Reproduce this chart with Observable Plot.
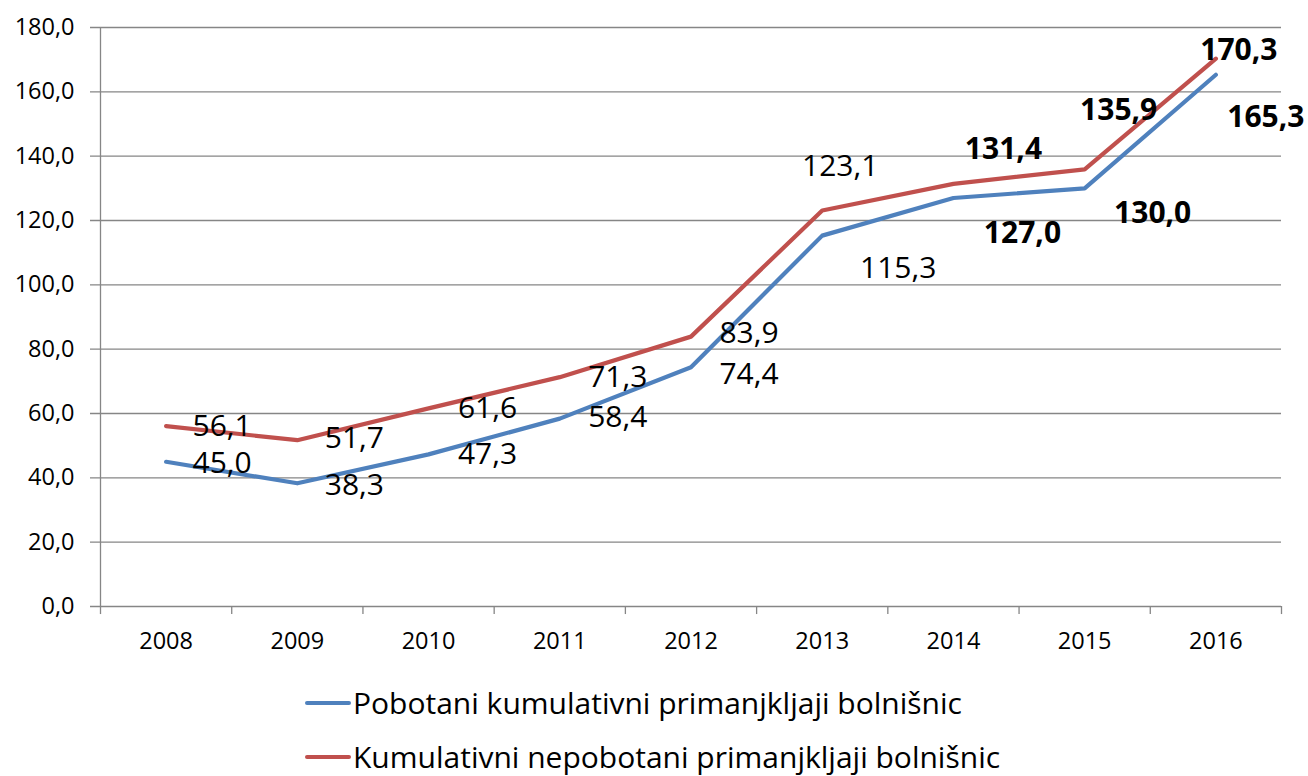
<!DOCTYPE html>
<html>
<head>
<meta charset="utf-8">
<script src="https://cdn.jsdelivr.net/npm/d3@7"></script>
<script src="https://cdn.jsdelivr.net/npm/@observablehq/plot@0.6"></script>
<style>
  html, body { margin: 0; padding: 0; background: #fff; }
  body { width: 1308px; height: 776px; position: relative; overflow: hidden; font-family: "Open Sans", sans-serif; }
  #chart { position: absolute; left: 0; top: 0; }
  .legend { position: absolute; left: 305px; display: flex; align-items: center; font-size: 30px; color: #000; white-space: nowrap; line-height: 38px; }
  .legend .swatch { width: 46px; height: 4px; margin-right: 2px; border-radius: 2px; }
</style>
</head>
<body>
<div id="chart"></div>
<div class="legend" id="leg1" style="top:684px"></div>
<div class="legend" id="leg2" style="top:738px"></div>
<script>
const years = [2008, 2009, 2010, 2011, 2012, 2013, 2014, 2015, 2016];
const seriesNames = ["Pobotani kumulativni primanjkljaji bolnišnic", "Kumulativni nepobotani primanjkljaji bolnišnic"];
const blueValues = [45.0, 38.3, 47.3, 58.4, 74.4, 115.3, 127.0, 130.0, 165.3];
const redValues = [56.1, 51.7, 61.6, 71.3, 83.9, 123.1, 131.4, 135.9, 170.3];
const yTicks = [0, 20, 40, 60, 80, 100, 120, 140, 160, 180];

// label placement (pixel offsets) and emphasis
const blueDx = [56, 57, 59, 58, 58, 76, 69, 68, 50];
const blueDy = [2, 2, 0, -1, 7, 33, 35, 25, 43];
const redDx = [56, 57, 59, 58, 58, 18, 50, 34, 23];
const redDy = [0, -2, 0, 0, -3, -44, -34, -59, -8];
const boldLabel = [false, false, false, false, false, false, true, true, true];

const colors = ["#4F81BD", "#C0504D"];
const fmt = v => v.toFixed(1).replace(".", ",");

const rows = [];
years.forEach((yr, i) => {
  rows.push({year: yr, value: blueValues[i], series: seriesNames[0], dx: blueDx[i], dy: blueDy[i], bold: boldLabel[i]});
});
years.forEach((yr, i) => {
  rows.push({year: yr, value: redValues[i], series: seriesNames[1], dx: redDx[i], dy: redDy[i], bold: boldLabel[i]});
});
const boundaries = years.map(y => y - 0.5).concat([years[years.length - 1] + 0.5]);

const textMarks = rows.map(r => Plot.text([r], {
  x: "year", y: "value", text: d => fmt(d.value),
  dx: r.dx, dy: r.dy, fontSize: 30, fontWeight: r.bold ? 700 : 400, fill: "#000"
}));

const chart = Plot.plot({
  width: 1308,
  height: 670,
  marginLeft: 100,
  marginRight: 27,
  marginTop: 27,
  marginBottom: 64,
  style: {fontFamily: "Open Sans, sans-serif", background: "#fff", overflow: "visible"},
  x: {domain: [years[0] - 0.5, years[years.length - 1] + 0.5], ticks: years, tickFormat: d => String(d), tickSize: 0, tickPadding: 26, label: null},
  y: {domain: [0, 180], ticks: yTicks, tickFormat: fmt, tickSize: 0, tickPadding: 26, label: null},
  marks: [
    Plot.ruleY(yTicks, {y: d => d, stroke: "#868686", strokeWidth: 1.3, insetLeft: -10}),
    Plot.ruleX([boundaries[0]], {stroke: "#868686", strokeWidth: 1.3}),
    Plot.ruleX(boundaries, {y1: 0, y2: -2.5, stroke: "#868686", strokeWidth: 1.3}),
    Plot.line(rows, {x: "year", y: "value", z: "series", stroke: d => d.series === seriesNames[0] ? colors[0] : colors[1], strokeWidth: 4.2, strokeLinejoin: "round", strokeLinecap: "round"}),
    ...textMarks
  ]
});
chart.querySelectorAll("g[aria-label='x-axis tick label'], g[aria-label='y-axis tick label']").forEach(g => { g.setAttribute("font-size", "23.5"); g.style.fontSize = "23.5px"; g.setAttribute("fill", "#000"); });
document.getElementById("chart").appendChild(chart);

[["leg1", 0], ["leg2", 1]].forEach(([id, i]) => {
  const el = document.getElementById(id);
  const sw = document.createElement("span");
  sw.className = "swatch";
  sw.style.background = colors[i];
  const tx = document.createElement("span");
  tx.textContent = seriesNames[i];
  el.appendChild(sw);
  el.appendChild(tx);
});
</script>
</body>
</html>
